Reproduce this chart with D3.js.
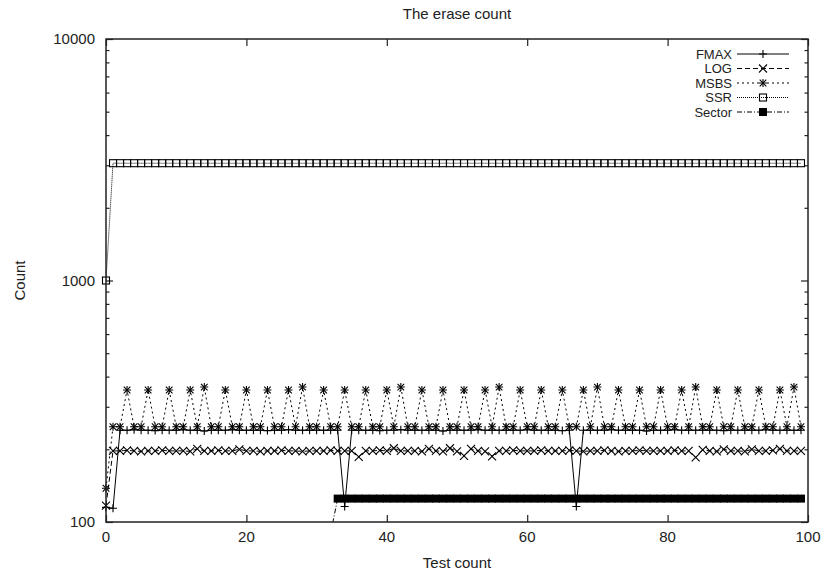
<!DOCTYPE html>
<html>
<head>
<meta charset="utf-8">
<script src="https://cdn.jsdelivr.net/npm/d3@7"></script>
<style>
  body { margin: 0; background: #fff; }
  text { font-family: "Liberation Sans", Arial, sans-serif; font-size: 15px; fill: #222; }
  .legend text { font-size: 13px; }
</style>
</head>
<body>
<div id="chart"></div>
<script>
var testCount = d3.range(0, 100);

var fmax = [115,114,240,240,241,240,240,239,240,240,
            240,241,240,240,238,240,240,240,241,240,
            240,240,240,239,240,240,241,240,240,240,
            240,240,240,240,116,240,240,240,240,239,
            240,240,241,240,240,240,240,240,238,240,
            240,240,240,241,240,240,240,240,240,240,
            241,240,240,240,240,239,240,116,240,240,
            240,240,241,240,240,240,240,238,240,240,
            240,241,240,240,240,240,240,240,239,240,
            240,240,240,240,241,240,240,240,240,240];

var log = [117,197,197,198,197,196,197,197,198,197,
           197,197,196,201,197,197,198,197,197,200,
           197,197,196,197,197,198,197,197,196,197,
           197,197,198,197,197,197,186,197,197,198,
           197,202,197,197,197,196,201,197,196,202,
           196,188,201,197,196,187,197,197,198,197,
           197,197,198,197,197,197,198,197,196,197,
           197,198,197,196,197,197,198,197,197,197,
           197,198,197,197,185,199,197,196,200,197,
           197,196,200,197,197,198,201,197,197,197];

var msbs = [138,248,248,352,248,248,352,248,248,352,
            248,248,352,248,362,248,248,352,248,248,
            352,248,248,352,248,248,352,248,362,248,
            248,352,248,248,352,248,248,352,248,248,
            352,248,362,248,248,352,248,248,352,248,
            248,352,248,248,352,248,362,248,248,352,
            248,248,352,248,248,352,248,248,352,248,
            362,248,248,352,248,248,352,248,248,352,
            248,248,352,248,362,248,248,352,248,248,
            352,248,248,352,248,248,352,248,362,248];

var ssr = [1000,3060,3060,3060,3060,3060,3060,3060,3060,3060,
           3060,3060,3060,3060,3060,3060,3060,3060,3060,3060,
           3060,3060,3060,3060,3060,3060,3060,3060,3060,3060,
           3060,3060,3060,3060,3060,3060,3060,3060,3060,3060,
           3060,3060,3060,3060,3060,3060,3060,3060,3060,3060,
           3060,3060,3060,3060,3060,3060,3060,3060,3060,3060,
           3060,3060,3060,3060,3060,3060,3060,3060,3060,3060,
           3060,3060,3060,3060,3060,3060,3060,3060,3060,3060,
           3060,3060,3060,3060,3060,3060,3060,3060,3060,3060,
           3060,3060,3060,3060,3060,3060,3060,3060,3060,3060];

var sector = [null,null,null,null,null,null,null,null,null,null,
              null,null,null,null,null,null,null,null,null,null,
              null,null,null,null,null,null,null,null,null,null,
              null,null,90,125,125,125,125,125,125,125,
              125,125,125,125,125,125,125,125,125,125,
              125,125,125,125,125,125,125,125,125,125,
              125,125,125,125,125,125,125,125,125,125,
              125,125,125,125,125,125,125,125,125,125,
              125,125,125,125,125,125,125,125,125,125,
              125,125,125,125,125,125,125,125,125,125];

var xTicks = [0, 20, 40, 60, 80, 100];
var yTicks = [100, 1000, 10000];
var yMinor = [200,300,400,500,600,700,800,900,2000,3000,4000,5000,6000,7000,8000,9000];

var series = [
    { name: 'FMAX',   values: fmax,   dash: null,      marker: 'plus' },
    { name: 'LOG',    values: log,    dash: '5,3',     marker: 'cross' },
    { name: 'MSBS',   values: msbs,   dash: '2,3',     marker: 'star' },
    { name: 'SSR',    values: ssr,    dash: '1,1',     marker: 'box' },
    { name: 'Sector', values: sector, dash: '5,2,1,2', marker: 'fbox' }
];

var margin = {top: 39, right: 16, bottom: 51, left: 106};
var width = 824 - margin.left - margin.right;
var height = 573 - margin.top - margin.bottom;

var x = d3.scaleLinear().domain([0, 100]).range([0, width]);
var y = d3.scaleLog().domain([100, 10000]).range([height, 0]);

var svg = d3.select("#chart").append("svg")
    .attr("width", 824).attr("height", 573)
    .append("g")
    .attr("transform", "translate(" + margin.left + "," + margin.top + ")");

svg.append("clipPath").attr("id", "clip")
    .append("rect").attr("width", width).attr("height", height);

// ticks, mirrored on all four sides, pointing inward
function tickAxis(axis, vals, size) {
    return axis.tickValues(vals).tickSize(size).tickFormat('');
}
svg.append("g").attr("transform", "translate(0," + height + ")").call(tickAxis(d3.axisTop(x), xTicks, 7));
svg.append("g").call(tickAxis(d3.axisBottom(x), xTicks, 7));
svg.append("g").call(tickAxis(d3.axisRight(y), yTicks, 7));
svg.append("g").call(tickAxis(d3.axisRight(y), yMinor, 3.5));
svg.append("g").attr("transform", "translate(" + width + ",0)").call(tickAxis(d3.axisLeft(y), yTicks, 7));
svg.append("g").attr("transform", "translate(" + width + ",0)").call(tickAxis(d3.axisLeft(y), yMinor, 3.5));
svg.selectAll(".domain").remove();
svg.selectAll(".tick line").attr("stroke", "#222").attr("stroke-width", 1.2);

svg.selectAll(".xlab").data(xTicks).enter().append("text")
    .attr("x", d => x(d)).attr("y", height + 20)
    .attr("text-anchor", "middle").text(d => d);

svg.selectAll(".ylab").data(yTicks).enter().append("text")
    .attr("x", -11).attr("y", d => y(d) + 5)
    .attr("text-anchor", "end").text(d => d);

svg.append("text").attr("x", width / 2).attr("y", -20).attr("text-anchor", "middle").text("The erase count");
svg.append("text").attr("x", width / 2).attr("y", height + 46).attr("text-anchor", "middle").text("Test count");
svg.append("text").attr("transform", "translate(" + (25 - margin.left) + "," + (height / 2) + ") rotate(-90)")
    .attr("text-anchor", "middle").text("Count");

var plot = svg.append("g").attr("clip-path", "url(#clip)");
var marks = svg.append("g");

function drawMarker(g, type) {
    var s = 4;
    if (type == 'plus' || type == 'star') {
        g.append("path").attr("d", `M${-s},0H${s}M0,${-s}V${s}`).attr("stroke", "#000").attr("stroke-width", 1.1).attr("fill", "none");
    }
    if (type == 'cross' || type == 'star') {
        var c = type == 'star' ? 3.3 : 4;
        g.append("path").attr("d", `M${-c},${-c}L${c},${c}M${-c},${c}L${c},${-c}`).attr("stroke", "#000").attr("stroke-width", 1.1).attr("fill", "none");
    }
    if (type == 'box') {
        g.append("rect").attr("x", -3.5).attr("y", -3.5).attr("width", 7).attr("height", 7)
            .attr("stroke", "#000").attr("stroke-width", 1.1).attr("fill", "none");
    }
    if (type == 'fbox') {
        g.append("rect").attr("x", -4).attr("y", -4).attr("width", 8).attr("height", 8).attr("fill", "#000");
    }
}

series.forEach(function(s) {
    var pts = testCount.map((t, i) => ({ x: t, y: s.values[i] }));
    var line = d3.line().defined(d => d.y != null).x(d => x(d.x)).y(d => y(d.y));
    plot.append("path").attr("d", line(pts))
        .attr("fill", "none").attr("stroke", "#000").attr("stroke-width", 1)
        .attr("stroke-dasharray", s.dash);
    // points outside the range are not drawn, points on the edge are not clipped
    pts.filter(d => d.y != null && d.y >= 100 && d.y <= 10000).forEach(function(d) {
        var g = marks.append("g").attr("transform", "translate(" + x(d.x) + "," + y(d.y) + ")");
        drawMarker(g, s.marker);
    });
});

// legend
var legend = svg.append("g").attr("class", "legend").attr("transform", "translate(0," + (54 - margin.top) + ")");
series.forEach(function(s, i) {
    var row = legend.append("g").attr("transform", "translate(0," + (i * 14.5) + ")");
    row.append("text").attr("x", 732 - margin.left).attr("y", 4.5).attr("text-anchor", "end").text(s.name);
    row.append("line").attr("x1", 737 - margin.left).attr("x2", 789 - margin.left)
        .attr("stroke", "#000").attr("stroke-width", 1).attr("stroke-dasharray", s.dash);
    var g = row.append("g").attr("transform", "translate(" + (763 - margin.left) + ",0)");
    drawMarker(g, s.marker);
});

svg.append("rect").attr("width", width).attr("height", height)
    .attr("fill", "none").attr("stroke", "#222").attr("stroke-width", 1.5);
</script>
</body>
</html>
